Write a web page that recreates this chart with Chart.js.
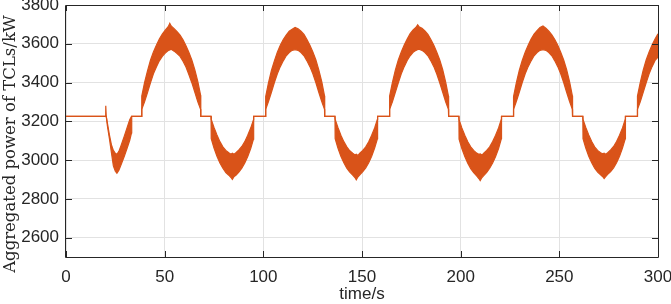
<!DOCTYPE html>
<html>
<head>
<meta charset="utf-8">
<script src="https://cdn.jsdelivr.net/npm/chart.js@4.4.1/dist/chart.umd.min.js"></script>
<style>
  html, body { margin: 0; padding: 0; background: #fff; }
  #wrap { width: 671px; height: 304px; }
</style>
</head>
<body>
<div id="wrap"><canvas id="chartPotencia" width="671" height="304"></canvas></div>
<script>
// tempo (s) e envelope superior / inferior da potencia agregada (kW)
const time = [
  0, 20.0,
  20.15, 20.4, 21.0, 22.0, 23.0, 24.0, 25.0, 25.8, 26.8, 28.0, 29.5, 31.0, 32.3, 33.2, 33.3,
  38.3, 38.4, 39.8, 41.3, 42.8, 44.3, 45.8, 47.3, 48.8, 50.3, 51.8, 52.6, 53.3, 54.8, 56.3, 57.8, 59.3, 60.8, 62.3, 63.8, 65.3, 66.8, 68.2, 68.3,
  73.5, 73.6, 75.0, 76.5, 78.0, 79.5, 81.0, 82.5, 83.6, 84.3, 85.2, 86.1, 87.6, 89.1, 90.6, 92.1, 93.6, 95.0, 95.1,
  101.1, 101.2, 102.6, 104.1, 105.6, 107.1, 108.6, 110.1, 111.6, 113.1, 114.6, 116.1, 117.6, 119.1, 120.6, 122.1, 123.6, 125.1, 126.6, 128.1, 129.6, 131.0, 131.1,
  136.3, 136.4, 137.8, 139.3, 140.8, 142.3, 143.8, 145.3, 146.4, 147.1, 148.0, 148.9, 150.4, 151.9, 153.4, 154.9, 156.4, 157.8, 157.9,
  163.9, 164.0, 165.4, 166.9, 168.4, 169.9, 171.4, 172.9, 174.4, 175.9, 177.4, 178.2, 178.9, 180.4, 181.9, 183.4, 184.9, 186.4, 187.9, 189.4, 190.9, 192.4, 193.8, 193.9,
  199.1, 199.2, 200.6, 202.1, 203.6, 205.1, 206.6, 208.1, 209.2, 209.9, 210.8, 211.7, 213.2, 214.7, 216.2, 217.7, 219.2, 220.6, 220.7,
  226.7, 226.8, 228.2, 229.7, 231.2, 232.7, 234.2, 235.7, 237.2, 238.7, 240.2, 241.7, 243.2, 244.7, 246.2, 247.7, 249.2, 250.7, 252.2, 253.7, 255.2, 256.6, 256.7,
  261.9, 262.0, 263.4, 264.9, 266.4, 267.9, 269.4, 270.9, 272.0, 272.7, 273.6, 274.5, 276.0, 277.5, 279.0, 280.5, 282.0, 283.4, 283.5,
  289.5, 289.6, 291.0, 292.5, 294.0, 295.5, 297.0, 298.5, 300.0
];
const upper = [
  3225, 3225,
  3280, 3225, 3190, 3130, 3080, 3050, 3035, 3030, 3045, 3078, 3122, 3168, 3208, 3225, 3225,
  3225, 3330, 3400, 3460, 3515, 3558, 3592, 3625, 3650, 3670, 3688, 3705, 3692, 3678, 3662, 3645, 3620, 3590, 3555, 3515, 3465, 3405, 3335, 3225,
  3225, 3210, 3168, 3130, 3095, 3068, 3050, 3038, 3030, 3035, 3030, 3038, 3052, 3070, 3095, 3128, 3165, 3208, 3225,
  3225, 3328, 3398, 3462, 3512, 3556, 3592, 3622, 3645, 3665, 3675, 3684, 3678, 3665, 3648, 3622, 3592, 3558, 3518, 3465, 3405, 3332, 3225,
  3225, 3210, 3168, 3128, 3095, 3068, 3048, 3035, 3026, 3030, 3024, 3036, 3050, 3068, 3094, 3128, 3166, 3210, 3225,
  3225, 3330, 3400, 3464, 3516, 3558, 3594, 3625, 3652, 3672, 3685, 3698, 3688, 3680, 3666, 3648, 3622, 3592, 3556, 3516, 3466, 3402, 3330, 3225,
  3225, 3208, 3166, 3128, 3094, 3068, 3050, 3036, 3030, 3032, 3026, 3036, 3050, 3068, 3096, 3128, 3166, 3210, 3225,
  3225, 3328, 3398, 3462, 3514, 3556, 3592, 3624, 3650, 3668, 3684, 3692, 3680, 3665, 3646, 3622, 3592, 3556, 3516, 3466, 3404, 3332, 3225,
  3225, 3210, 3168, 3130, 3096, 3068, 3050, 3038, 3032, 3036, 3030, 3038, 3052, 3070, 3096, 3128, 3166, 3210, 3225,
  3225, 3330, 3400, 3464, 3516, 3558, 3594, 3625, 3652
];
const lower = [
  3225, 3225,
  3225, 3225, 3175, 3110, 3040, 2970, 2942, 2932, 2948, 2978, 3018, 3062, 3102, 3140, 3225,
  3225, 3262, 3300, 3348, 3398, 3445, 3480, 3512, 3535, 3552, 3565, 3568, 3572, 3562, 3550, 3535, 3510, 3480, 3440, 3398, 3350, 3300, 3262, 3225,
  3225, 3110, 3062, 3020, 2985, 2958, 2936, 2922, 2910, 2900, 2915, 2922, 2938, 2958, 2985, 3018, 3060, 3108, 3225,
  3225, 3262, 3302, 3350, 3400, 3445, 3482, 3512, 3538, 3555, 3566, 3570, 3566, 3555, 3538, 3512, 3482, 3445, 3400, 3350, 3302, 3262, 3225,
  3225, 3110, 3062, 3020, 2986, 2958, 2938, 2922, 2910, 2898, 2914, 2924, 2940, 2960, 2986, 3020, 3062, 3110, 3225,
  3225, 3262, 3300, 3350, 3398, 3445, 3482, 3514, 3538, 3556, 3566, 3570, 3572, 3566, 3555, 3538, 3512, 3482, 3444, 3398, 3350, 3300, 3262, 3225,
  3225, 3108, 3060, 3018, 2984, 2956, 2935, 2918, 2905, 2894, 2910, 2920, 2936, 2958, 2985, 3018, 3060, 3110, 3225,
  3225, 3262, 3302, 3350, 3400, 3445, 3482, 3512, 3538, 3555, 3566, 3570, 3566, 3555, 3538, 3512, 3482, 3445, 3400, 3350, 3302, 3262, 3225,
  3225, 3110, 3062, 3020, 2986, 2958, 2938, 2924, 2914, 2905, 2916, 2926, 2940, 2960, 2986, 3020, 3062, 3110, 3225,
  3225, 3262, 3300, 3350, 3398, 3445, 3482, 3514, 3532
];
const xTicks = [0, 50, 100, 150, 200, 250, 300];
const yTicks = [2600, 2800, 3000, 3200, 3400, 3600, 3800];

const corLinha = '#D95319';
const corEixo = '#262626';
const corGrade = '#e2e2e2';
const fonteNum = '"Liberation Sans", Arial, sans-serif';

const pontosSup = time.map((t, i) => ({ x: t, y: upper[i] }));
const pontosInf = time.map((t, i) => ({ x: t, y: lower[i] }));

// moldura, marcas internas e titulos dos eixos
const moldura = {
  id: 'moldura',
  afterDraw(chart) {
    const ctx = chart.ctx;
    const a = chart.chartArea;
    const sx = chart.scales.x, sy = chart.scales.y;
    ctx.save();
    ctx.strokeStyle = corEixo;
    ctx.lineWidth = 1;
    ctx.beginPath();
    ctx.rect(a.left - 0.5, a.top + 0.5, a.right - a.left + 1, a.bottom - a.top);
    ctx.stroke();

    ctx.beginPath();
    xTicks.forEach(v => {
      const px = Math.round(sx.getPixelForValue(v)) + 0.5;
      ctx.moveTo(px, a.bottom); ctx.lineTo(px, a.bottom - 6);
      ctx.moveTo(px, a.top); ctx.lineTo(px, a.top + 6);
    });
    yTicks.forEach(v => {
      const py = Math.round(sy.getPixelForValue(v)) + 0.5;
      ctx.moveTo(a.left, py); ctx.lineTo(a.left + 6, py);
      ctx.moveTo(a.right, py); ctx.lineTo(a.right - 6, py);
    });
    ctx.stroke();

    ctx.fillStyle = corEixo;
    ctx.font = '17px ' + fonteNum;
    ctx.textAlign = 'center';
    ctx.textBaseline = 'alphabetic';
    ctx.fillText('time/s', (a.left + a.right) / 2, 299);

    ctx.translate(11, 144);
    ctx.rotate(-Math.PI / 2);
    ctx.font = '16.5px "DejaVu Serif", serif';
    ctx.textBaseline = 'middle';
    ctx.fillText('Aggregated power of TCLs/kW', 0, 0);
    ctx.restore();
  }
};

new Chart(document.getElementById('chartPotencia'), {
  type: 'line',
  data: {
    datasets: [{
      data: pontosSup,
      borderColor: corLinha,
      borderWidth: 1.2,
      pointRadius: 0,
      fill: false
    },
    {
      data: pontosInf,
      borderColor: corLinha,
      backgroundColor: corLinha,
      borderWidth: 1.2,
      pointRadius: 0,
      fill: '-1'
    }]
  },
  options: {
    responsive: false,
    animation: false,
    devicePixelRatio: 1,
    layout: { padding: { top: 5, right: 13, left: 0, bottom: 0 } },
    plugins: { legend: { display: false }, tooltip: { enabled: false } },
    scales: {
      x: {
        type: 'linear',
        min: 0,
        max: 300,
        afterBuildTicks: s => { s.ticks = xTicks.map(v => ({ value: v })); },
        afterFit: s => { s.height = 47; s.paddingLeft = 0; s.paddingRight = 0; },
        ticks: { color: corEixo, font: { size: 17, family: fonteNum }, padding: 10, maxRotation: 0,
                 callback: v => String(v) },
        grid: { color: corGrade, drawTicks: false },
        border: { display: false }
      },
      y: {
        min: 2500,
        max: 3800,
        afterBuildTicks: s => { s.ticks = yTicks.map(v => ({ value: v })); },
        afterFit: s => { s.width = 66; s.paddingTop = 0; s.paddingBottom = 0; },
        ticks: { color: corEixo, font: { size: 17, family: fonteNum }, padding: 7,
                 callback: v => String(v) },
        grid: { color: corGrade, drawTicks: false },
        border: { display: false }
      }
    }
  },
  plugins: [moldura]
});
</script>
</body>
</html>
